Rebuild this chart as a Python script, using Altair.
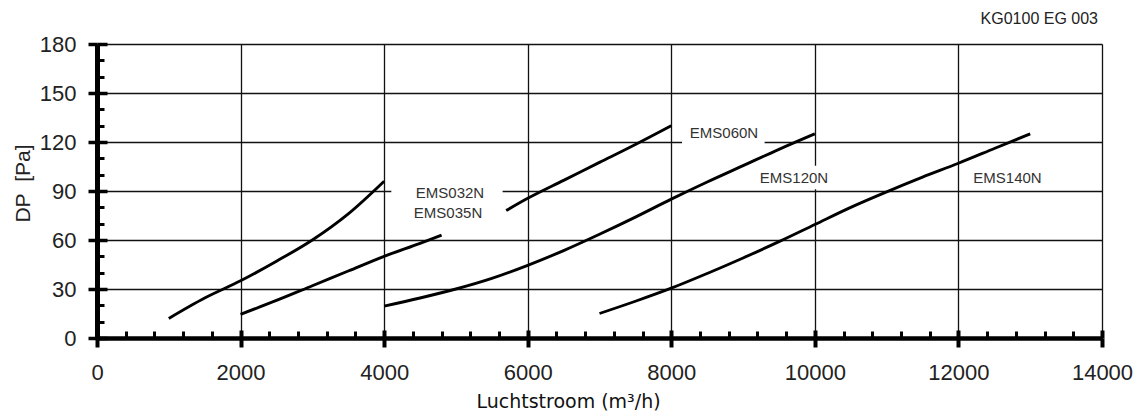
import altair as alt
import pandas as pd

# ---- data ----
s032_x = [1000, 1500, 2000, 2500, 3000, 3500, 4000]
s032_y = [12, 24.5, 35, 47, 60, 76, 96]
s035_x = [2000, 2500, 3000, 3500, 4000, 4500, 4800]
s035_y = [14.5, 23, 32, 41, 50, 58, 63]
s060_x = [5700, 6000, 6500, 7000, 7500, 8000]
s060_y = [78, 85.5, 96.5, 107.5, 118.5, 130]
s120_x = [4000, 4500, 5000, 5500, 6000, 6500, 7000, 7500, 8000, 8500, 9000, 9500, 10000]
s120_y = [19.5, 24.5, 30, 36.5, 44.5, 53.5, 63.5, 74, 85, 95.5, 105.5, 115.5, 125]
s140_x = [7000, 7500, 8000, 8500, 9000, 9500, 10000, 10500, 11000, 11500, 12000, 12500, 13000]
s140_y = [15, 22.5, 30.5, 39.5, 49, 59, 69.5, 80, 89.5, 98.5, 107, 116, 125]

label_names = ["EMS032N", "EMS035N", "EMS060N", "EMS120N", "EMS140N"]
label_x = [4917, 4890, 8734, 9709, 12684]
label_y = [88.7, 76.5, 125.6, 98.2, 98.2]

# white boxes behind some labels (they interrupt the grid)
box_x1 = [4100, 8150, 9200]
box_x2 = [5650, 9300, 10300]
box_y1 = [84, 116.5, 91]
box_y2 = [94, 131, 105.5]

x_major = [0, 2000, 4000, 6000, 8000, 10000, 12000, 14000]
y_major = [0, 30, 60, 90, 120, 150, 180]
x_minor = [v for v in range(400, 14000, 400) if v % 2000 != 0]
y_minor = [v for v in range(10, 180, 10) if v % 30 != 0]

rows = []
for name, xs, ys in [("EMS032N", s032_x, s032_y), ("EMS035N", s035_x, s035_y),
                     ("EMS060N", s060_x, s060_y), ("EMS120N", s120_x, s120_y),
                     ("EMS140N", s140_x, s140_y)]:
    for i, (a, b) in enumerate(zip(xs, ys)):
        rows.append({"series": name, "x": a, "y": b, "i": i})
curves = pd.DataFrame(rows)
labels = pd.DataFrame({"name": label_names, "x": label_x, "y": label_y})
boxes = pd.DataFrame({"x1": box_x1, "x2": box_x2, "y1": box_y1, "y2": box_y2})

xs = alt.Scale(domain=[0, 14000], nice=False, zero=False)
ys = alt.Scale(domain=[0, 180], nice=False, zero=False)

TICKF = "Liberation Sans"

main_x_axis = alt.Axis(
    orient="bottom", values=x_major, format="d", grid=True, gridColor="#111",
    gridWidth=1.3, gridOpacity=1, domain=True, domainColor="#000", domainWidth=4.5,
    ticks=True, tickSize=9, tickWidth=4, tickColor="#000",
    labelFont=TICKF, labelFontSize=22, labelColor="#222", labelPadding=15,
    title="Luchtstroom (m³/h)", titleFont="DejaVu Sans", titleFontSize=19,
    titleFontWeight="normal", titleColor="#111", titleX=471, titleY=54,
    titleBaseline="top", titleAlign="center", labelFlush=False,
)
main_y_axis = alt.Axis(
    orient="left", values=y_major, grid=True, gridColor="#111", gridWidth=1.3,
    gridOpacity=1, domain=True, domainColor="#000", domainWidth=5,
    ticks=True, tickSize=9, tickWidth=3.5, tickColor="#000",
    labelFont=TICKF, labelFontSize=22, labelColor="#222", labelPadding=12,
    title="DP\u00a0\u00a0[Pa]", titleFont=TICKF, titleFontSize=21,
    titleFontWeight="normal", titleColor="#222", titleX=-74, titleY=139,
    titleBaseline="middle", titleAngle=-90, labelFlush=False,
)

curve_layer = alt.Chart(curves).mark_line(
    color="#000", strokeWidth=2.9, interpolate="monotone"
).encode(
    x=alt.X("x:Q", scale=xs, axis=main_x_axis),
    y=alt.Y("y:Q", scale=ys, axis=main_y_axis),
    detail="series:N",
    order="i:Q",
)

box_layer = alt.Chart(boxes).mark_rect(color="white").encode(
    x=alt.X("x1:Q", scale=xs, axis=alt.Axis(
        orient="bottom", values=x_minor, grid=False, domain=False, labels=False,
        ticks=True, tickSize=7, tickWidth=3, tickColor="#000", offset=-7, title="")),
    x2="x2:Q",
    y=alt.Y("y1:Q", scale=ys, axis=alt.Axis(
        orient="left", values=y_minor, grid=False, domain=False, labels=False,
        ticks=True, tickSize=7, tickWidth=3, tickColor="#000", offset=-7, title="")),
    y2="y2:Q",
)

text_layer = alt.Chart(labels).mark_text(
    font="Liberation Sans", fontSize=15, color="#333", align="center", baseline="middle"
).encode(
    x=alt.X("x:Q", scale=xs, axis=alt.Axis(
        orient="bottom", values=x_major, grid=False, domain=False, labels=False,
        ticks=True, tickSize=8, tickWidth=4, tickColor="#000", offset=-8, title="")),
    y=alt.Y("y:Q", scale=ys, axis=alt.Axis(
        orient="left", values=y_major, grid=False, domain=False, labels=False,
        ticks=True, tickSize=10, tickWidth=3.5, tickColor="#000", offset=-10, title="")),
    text="name:N",
)

chart = alt.layer(box_layer, curve_layer, text_layer).resolve_axis(
    x="independent", y="independent"
).properties(
    width=1005, height=294,
    autosize=alt.AutoSizeParams(type="none"),
    padding={"left": 97, "top": 44, "right": 43, "bottom": 79},
    title=alt.TitleParams("KG0100 EG 003", anchor="end", frame="group",
                          font="Liberation Sans", fontSize=16, fontWeight="normal",
                          color="#222", offset=6, dx=-4),
).configure_view(stroke="transparent").configure(background="white")

chart.save("out.html", embed_options={"renderer": "svg", "actions": False})
